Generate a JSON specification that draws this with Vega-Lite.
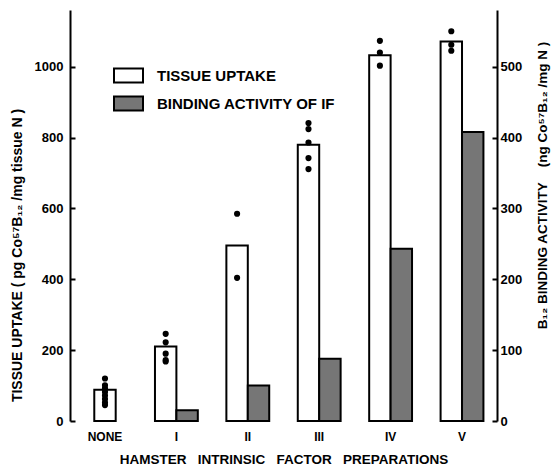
{
  "$schema": "https://vega.github.io/schema/vega-lite/v6.json",
  "width": 427,
  "height": 411,
  "autosize": {"type": "none"},
  "padding": {"left": 70, "top": 10, "right": 56, "bottom": 48},
  "background": "white",
  "config": {
    "view": {"stroke": null},
    "font": "Liberation Sans",
    "axis": {
      "grid": false,
      "labelFont": "Liberation Sans",
      "labelFontWeight": "bold",
      "labelColor": "black",
      "titleFont": "Liberation Sans",
      "titleFontWeight": "bold",
      "titleColor": "black",
      "domainColor": "black",
      "tickColor": "black"
    }
  },
  "datasets": {
    "bars": [
      {"prep": "NONE", "measure": "TISSUE UPTAKE", "value": 88},
      {"prep": "I", "measure": "TISSUE UPTAKE", "value": 210},
      {"prep": "I", "measure": "BINDING ACTIVITY OF IF", "value": 15},
      {"prep": "II", "measure": "TISSUE UPTAKE", "value": 495},
      {"prep": "II", "measure": "BINDING ACTIVITY OF IF", "value": 50},
      {"prep": "III", "measure": "TISSUE UPTAKE", "value": 780},
      {"prep": "III", "measure": "BINDING ACTIVITY OF IF", "value": 88},
      {"prep": "IV", "measure": "TISSUE UPTAKE", "value": 1032},
      {"prep": "IV", "measure": "BINDING ACTIVITY OF IF", "value": 243},
      {"prep": "V", "measure": "TISSUE UPTAKE", "value": 1071},
      {"prep": "V", "measure": "BINDING ACTIVITY OF IF", "value": 408}
    ],
    "dots": [
      {"prep": "NONE", "uptake": 120},
      {"prep": "NONE", "uptake": 101},
      {"prep": "NONE", "uptake": 92},
      {"prep": "NONE", "uptake": 82},
      {"prep": "NONE", "uptake": 72},
      {"prep": "NONE", "uptake": 62},
      {"prep": "NONE", "uptake": 52},
      {"prep": "NONE", "uptake": 45},
      {"prep": "I", "uptake": 246},
      {"prep": "I", "uptake": 222},
      {"prep": "I", "uptake": 190},
      {"prep": "I", "uptake": 172},
      {"prep": "I", "uptake": 168},
      {"prep": "II", "uptake": 585},
      {"prep": "II", "uptake": 404},
      {"prep": "III", "uptake": 841},
      {"prep": "III", "uptake": 824},
      {"prep": "III", "uptake": 786},
      {"prep": "III", "uptake": 742},
      {"prep": "III", "uptake": 711},
      {"prep": "IV", "uptake": 1073},
      {"prep": "IV", "uptake": 1040},
      {"prep": "IV", "uptake": 1003},
      {"prep": "V", "uptake": 1100},
      {"prep": "V", "uptake": 1062},
      {"prep": "V", "uptake": 1045}
    ]
  },
  "encoding": {
    "x": {
      "field": "prep",
      "type": "nominal",
      "scale": {
        "domain": ["NONE", "I", "II", "III", "IV", "V"],
        "paddingInner": 0.4,
        "paddingOuter": 0.19
      },
      "axis": {
        "orient": "bottom",
        "domain": false,
        "ticks": false,
        "labelAngle": 0,
        "labelPadding": 10,
        "labelFontSize": 12,
        "title": "HAMSTER\u00a0\u00a0 INTRINSIC\u00a0\u00a0 FACTOR\u00a0\u00a0 PREPARATIONS",
        "titleFontSize": 13.5,
        "titlePadding": 10
      }
    },
    "fill": {
      "field": "measure",
      "type": "nominal",
      "scale": {
        "domain": ["TISSUE UPTAKE", "BINDING ACTIVITY OF IF"],
        "range": ["white", "#767676"]
      },
      "legend": {
        "orient": "none",
        "legendX": 43,
        "legendY": 50,
        "title": null,
        "padding": 0,
        "symbolType": "M-1,-0.48H1V0.48H-1Z",
        "symbolSize": 841,
        "symbolStrokeColor": "black",
        "symbolStrokeWidth": 2,
        "symbolOpacity": 1,
        "labelFont": "Liberation Sans",
        "labelFontSize": 15,
        "labelFontWeight": "bold",
        "labelColor": "black",
        "labelOffset": 13,
        "labelLimit": 300,
        "rowPadding": 1
      }
    }
  },
  "layer": [
    {
      "encoding": {
        "y": {
          "field": "value",
          "type": "quantitative",
          "scale": {"domain": [0, 1160], "nice": false},
          "axis": {
            "orient": "left",
            "values": [0, 200, 400, 600, 800, 1000],
            "format": "d",
            "tickSize": -5,
            "tickWidth": 2,
            "domainWidth": 2,
            "labelPadding": 12,
            "labelFontSize": 13,
            "title": "TISSUE UPTAKE ( pg Co\u2075\u2077B\u2081\u2082 /mg tissue N )",
            "titleFontSize": 14,
            "titleAngle": 270,
            "titleBaseline": "middle",
            "titleX": -53,
            "titleY": 245
          }
        }
      },
      "layer": [
        {
          "data": {"name": "bars"},
          "transform": [{"filter": "datum.measure === 'TISSUE UPTAKE' && datum.prep !== 'NONE'"}],
          "mark": {"type": "bar", "stroke": "black", "strokeWidth": 2},
          "encoding": {
            "xOffset": {
              "field": "measure",
              "scale": {
                "domain": ["TISSUE UPTAKE", "BINDING ACTIVITY OF IF"],
                "paddingInner": 0,
                "paddingOuter": 0
              }
            }
          }
        },
        {
          "data": {"name": "bars"},
          "transform": [{"filter": "datum.prep === 'NONE'"}],
          "mark": {"type": "bar", "stroke": "black", "strokeWidth": 2, "width": {"band": 0.5}},
          "encoding": {}
        },
        {
          "data": {"name": "dots"},
          "transform": [{"filter": "datum.prep !== 'NONE'"}],
          "mark": {"type": "circle", "size": 38, "color": "black", "opacity": 1},
          "encoding": {
            "xOffset": {"datum": "TISSUE UPTAKE"},
            "y": {"field": "uptake", "type": "quantitative"},
            "fill": {"value": "black"}
          }
        },
        {
          "data": {"name": "dots"},
          "transform": [{"filter": "datum.prep === 'NONE'"}],
          "mark": {"type": "circle", "size": 38, "color": "black", "opacity": 1},
          "encoding": {
            "y": {"field": "uptake", "type": "quantitative"},
            "fill": {"value": "black"}
          }
        }
      ]
    },
    {
      "data": {"name": "bars"},
      "transform": [{"filter": "datum.measure === 'BINDING ACTIVITY OF IF'"}],
      "mark": {"type": "bar", "stroke": "black", "strokeWidth": 2},
      "encoding": {
        "xOffset": {
          "field": "measure",
          "scale": {
            "domain": ["TISSUE UPTAKE", "BINDING ACTIVITY OF IF"],
            "paddingInner": 0,
            "paddingOuter": 0
          }
        },
        "y": {
          "field": "value",
          "type": "quantitative",
          "scale": {"domain": [0, 580], "nice": false},
          "axis": {
            "orient": "right",
            "values": [0, 100, 200, 300, 400, 500],
            "tickSize": -5,
            "tickWidth": 2,
            "domainWidth": 2,
            "labelPadding": 8,
            "labelFontSize": 13,
            "title": "B\u2081\u2082 BINDING ACTIVITY\u00a0\u00a0\u00a0 (ng Co\u2075\u2077B\u2081\u2082 /mg N )",
            "titleFontSize": 13.5,
            "titleAngle": 270,
            "titleBaseline": "middle",
            "titleX": 45,
            "titleY": 175
          }
        }
      }
    }
  ],
  "resolve": {"scale": {"y": "independent"}}
}
